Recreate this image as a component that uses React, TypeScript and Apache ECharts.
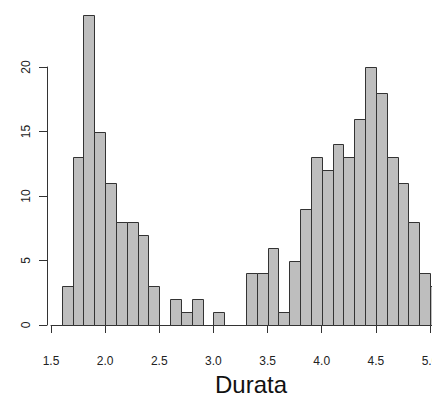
import React, { useEffect, useRef } from "react";
import * as echarts from "echarts";

const binStarts = [1.6, 1.7, 1.8, 1.9, 2.0, 2.1, 2.2, 2.3, 2.4, 2.5, 2.6, 2.7, 2.8, 2.9, 3.0, 3.1, 3.2, 3.3, 3.4, 3.5, 3.6, 3.7, 3.8, 3.9, 4.0, 4.1, 4.2, 4.3, 4.4, 4.5, 4.6, 4.7, 4.8, 4.9, 5.0];
const binEnds = [1.7, 1.8, 1.9, 2.0, 2.1, 2.2, 2.3, 2.4, 2.5, 2.6, 2.7, 2.8, 2.9, 3.0, 3.1, 3.2, 3.3, 3.4, 3.5, 3.6, 3.7, 3.8, 3.9, 4.0, 4.1, 4.2, 4.3, 4.4, 4.5, 4.6, 4.7, 4.8, 4.9, 5.0, 5.1];
const counts = [3, 13, 24, 15, 11, 8, 8, 7, 3, 0, 2, 1, 2, 0, 1, 0, 0, 4, 4, 6, 1, 5, 9, 13, 12, 14, 13, 16, 20, 18, 13, 11, 8, 4, 3];
const xLabel = "Durata";

const FONT = '"Liberation Sans", Arial, Helvetica, sans-serif';
const CHART_W = 480;

export default function App() {
  const ref = useRef<HTMLDivElement>(null);
  useEffect(() => {
    if (!ref.current) return;
    const chart = echarts.init(ref.current, undefined, { renderer: "svg" });
    const data = binStarts.map((s, i) => [s, binEnds[i], counts[i]]);
    chart.setOption({
      animation: false,
      backgroundColor: "#ffffff",
      grid: { left: 51, right: CHART_W - 430, top: 67, bottom: 71, outerBoundsMode: "none", containLabel: false },
      xAxis: {
        type: "value",
        min: 1.5,
        max: 5.0,
        interval: 0.5,
        offset: 12,
        axisLine: { show: true, lineStyle: { color: "#333", width: 1 } },
        axisTick: { show: true, length: 8, lineStyle: { color: "#333", width: 1 } },
        axisLabel: {
          margin: 18,
          color: "#222",
          fontSize: 12,
          fontFamily: FONT,
          showMaxLabel: true,
          showMinLabel: true,
          hideOverlap: false,
          formatter: (v: number) => v.toFixed(1),
        },
        splitLine: { show: false },
      },
      yAxis: {
        type: "value",
        min: 0,
        max: 20,
        interval: 5,
        offset: 4,
        axisLine: { show: true, lineStyle: { color: "#333", width: 1 } },
        axisTick: { show: true, length: 8, lineStyle: { color: "#333", width: 1 } },
        axisLabel: {
          margin: 15,
          rotate: 90,
          color: "#222",
          fontSize: 12,
          fontFamily: FONT,
        },
        splitLine: { show: false },
      },
      series: [
        {
          type: "custom",
          clip: false,
          data,
          encode: { x: [0, 1], y: 2 },
          renderItem: (params: any, api: any) => {
            const x0 = api.value(0);
            const x1 = api.value(1);
            const c = api.value(2);
            const p0 = api.coord([x0, c]);
            const p1 = api.coord([x1, 0]);
            return {
              type: "rect",
              shape: {
                x: Math.round(p0[0]) + 0.5,
                y: Math.round(p0[1]) + 0.5,
                width: Math.round(p1[0]) - Math.round(p0[0]),
                height: Math.round(p1[1]) - Math.round(p0[1]),
              },
              style: { fill: "#bebebe", stroke: "#333333", lineWidth: 1 },
            };
          },
        },
      ],
      graphic: [
        {
          type: "text",
          left: 251 - 36,
          top: 372,
          style: {
            text: xLabel,
            fontSize: 24,
            fontFamily: FONT,
            fill: "#111",
          },
        },
      ],
    });
    return () => chart.dispose();
  }, []);
  return (
    <div style={{ position: "fixed", left: 0, top: 0, width: 432, height: 396, overflow: "hidden", background: "#fff" }}>
      <div ref={ref} style={{ width: CHART_W, height: 396 }} />
    </div>
  );
}
